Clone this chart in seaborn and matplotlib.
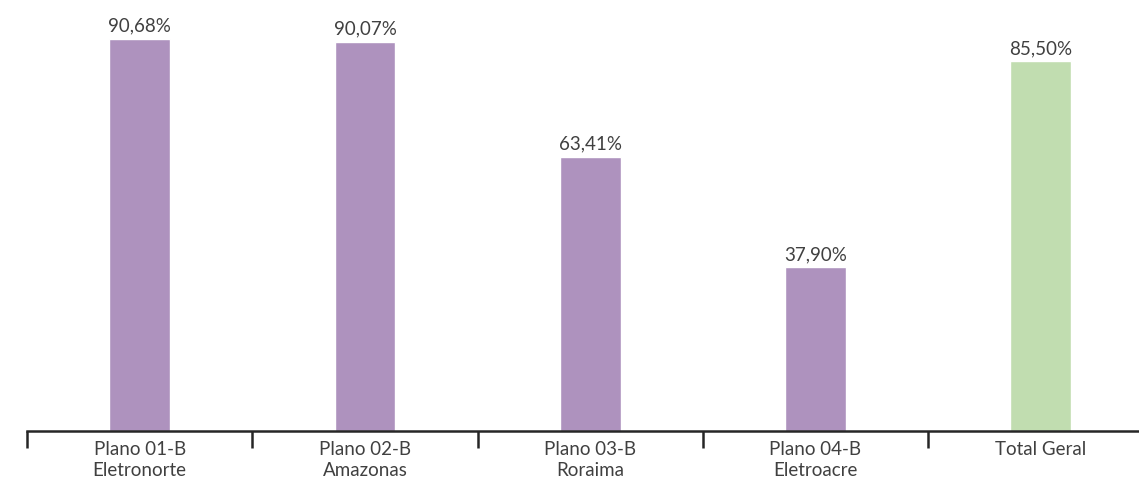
import matplotlib
matplotlib.use("Agg")
import matplotlib.pyplot as plt
import seaborn as sns
import pandas as pd

categories = ["Plano 01-B\nEletronorte", "Plano 02-B\nAmazonas", "Plano 03-B\nRoraima",
              "Plano 04-B\nEletroacre", "Total Geral"]
values = [90.68, 90.07, 63.41, 37.90, 85.50]
bar_colors = ["#AE92BE", "#AE92BE", "#AE92BE", "#AE92BE", "#C1DDB0"]

df = pd.DataFrame({"cat": categories, "val": values})

sns.set_style("white")
plt.rcParams["font.family"] = ["Lato", "DejaVu Sans"]
text_color = "#404040"

fig = plt.figure(figsize=(11.39, 4.83), dpi=100)
ax = fig.add_axes([27 / 1139, 52 / 483, 1126.5 / 1139, 431 / 483])

sns.barplot(data=df, x="cat", y="val", hue="cat", palette=bar_colors,
            width=0.27, legend=False, ax=ax, saturation=1)

# value labels with decimal comma
for c, v in zip(ax.containers, values):
    ax.bar_label(c, labels=[f"{v:.2f}%".replace(".", ",")], padding=3,
                 fontsize=13.5, color=text_color)

ax.set_ylim(0, 99.7)
ax.set_xlim(-0.5, 4.5)
ax.set_xlabel("")
ax.set_ylabel("")
ax.set_yticks([])
for s in ["top", "right", "left"]:
    ax.spines[s].set_visible(False)
ax.spines["bottom"].set_color("#262626")
ax.spines["bottom"].set_linewidth(1.8)

ax.set_xticks(range(len(categories)))
ax.set_xticklabels(categories, fontsize=13.5, color=text_color, linespacing=1.3)
ax.tick_params(axis="x", which="major", length=0, pad=7)
# separator ticks between categories
ax.set_xticks([i - 0.5 for i in range(len(categories) + 1)], minor=True)
ax.tick_params(axis="x", which="minor", bottom=True, length=12, width=1.8,
               color="#262626", direction="out")

fig.savefig("out.png", dpi=100)
